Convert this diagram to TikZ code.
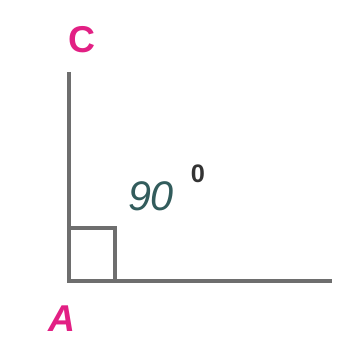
\documentclass[tikz,border=0pt]{standalone}
\usepackage{fontspec}
\setmainfont{Liberation Sans}
\definecolor{ptmag}{RGB}{226,32,132}
\definecolor{numteal}{RGB}{50,92,92}
\definecolor{linegray}{RGB}{110,110,110}
\tikzset{
  ray/.style={draw=linegray, line width=2.3pt, line cap=butt, line join=miter},
  ptlabel/.style={text=ptmag, font=\bfseries\fontsize{28}{30}\selectfont, inner sep=0pt},
  anglabel/.style={text=numteal, font=\itshape\fontsize{31}{32}\selectfont, inner sep=0pt},
  deglabel/.style={text=black!80, font=\bfseries\fontsize{19}{20}\selectfont, inner sep=0pt}
}
\begin{document}
\begin{tikzpicture}[x=0.75pt, y=-0.75pt]
  \useasboundingbox (0,0) rectangle (348,341);
  \coordinate (A) at (69,281);
  \coordinate (C) at (69,72);
  \coordinate (B) at (332,281);
  \coordinate (S1) at (69,228);
  \coordinate (S2) at (115,228);
  \coordinate (S3) at (115,281);
  \draw[ray] (C) -- (A) -- (B);
  \draw[ray] (S1) -- (S2) -- (S3);
  \node[ptlabel] (lC) at (82,40) {C};
  \node[ptlabel, font=\bfseries\itshape\fontsize{28}{30}\selectfont] (lA) at (62,319) {A};
  \node[anglabel] (l90) at (151,196) {90};
  \node[deglabel] (ldeg) at (198,174) {0};
\end{tikzpicture}
\end{document}
